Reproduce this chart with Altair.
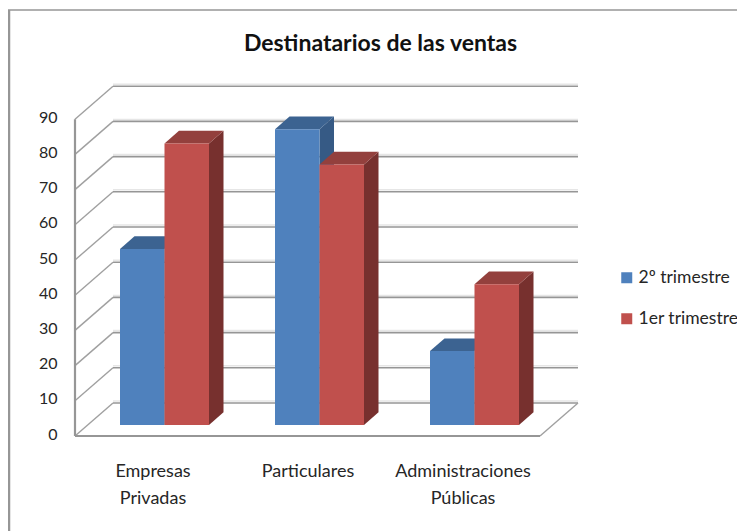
import json
import altair as alt
import pandas as pd

# ---- data ----
title = "Destinatarios de las ventas"
categories = ["Empresas Privadas", "Particulares", "Administraciones Públicas"]
series = ["2º trimestre", "1er trimestre"]
q2_values = [50, 84, 21]
q1_values = [80, 74, 40]
y_ticks = list(range(0, 100, 10))

# ---- style / layout ----
W, H = 729, 523
PX_X, PX_Y = 155.0, 3.52      # pixels per category, pixels per value unit
ORIGIN_X, ORIGIN_Y = 67, 428  # svg position of the front corner of the floor
WALL_DX, WALL_DY = 38 / PX_X, 33 / PX_Y
BAR_DX, BAR_DY = 14.5 / PX_X, 12.7 / PX_Y
BASE = 11 / PX_Y
BAR_W, BAR_START = 44.5 / PX_X, 45 / PX_X
FONT = "Lato"
TEXT = "#262626"
GRID = "#969696"
COLORS = ["#4f81bd", "#c0504d"]
TOPS = ["#3c6391", "#93403d"]
SIDES = ["#365a85", "#77302e"]

xs = alt.Scale(domain=[-ORIGIN_X / PX_X, (W - ORIGIN_X) / PX_X], range=[0, W], nice=False, zero=False)
ys = alt.Scale(domain=[(ORIGIN_Y - H) / PX_Y, ORIGIN_Y / PX_Y], range=[H, 0], nice=False, zero=False)

label_expr = ""
for i, c in enumerate(categories):
    label_expr += f"datum.value < {i + 1} ? {json.dumps(c.split(' '), ensure_ascii=False)} : "
label_expr += "''"

x_axis = alt.Axis(
    values=[0.5, 1.5, 2.5], labelExpr=label_expr, orient="bottom", offset=-(H - 454),
    domain=False, ticks=False, grid=False, title=None, labelPadding=0, labelFont=FONT,
    labelFontSize=18, labelColor=TEXT, labelLineHeight=27, labelAlign="center",
    labelBaseline="top", labelOverlap=False, labelFlush=False)
y_axis = alt.Axis(
    values=y_ticks, orient="left", offset=-49, domain=False, ticks=False, grid=False,
    title=None, labelPadding=0, labelFont=FONT, labelFontSize=16, labelColor=TEXT,
    labelOffset=-2, labelOverlap=False, labelFlush=False)

X = lambda f="x": alt.X(f"{f}:Q", scale=xs, axis=x_axis)
Y = lambda f="y": alt.Y(f"{f}:Q", scale=ys, axis=y_axis, stack=None)

# walls
back = pd.DataFrame({"x": WALL_DX, "x2": 3 + WALL_DX, "y": [v + WALL_DY for v in y_ticks]})
back_rule = alt.Chart(back).mark_rule(color=GRID, strokeWidth=1.6).encode(
    x=X(), x2="x2:Q", y=Y())
back_shadow = alt.Chart(back).mark_rule(color="#e6e6e6", strokeWidth=1.5, yOffset=-2).encode(
    x=X(), x2="x2:Q", y=Y())

diag_rows = []
for v in y_ticks:
    diag_rows += [dict(id=f"L{v}", x=0, y=v), dict(id=f"L{v}", x=WALL_DX, y=v + WALL_DY)]
diag_rows += [dict(id="R", x=3, y=0), dict(id="R", x=3 + WALL_DX, y=WALL_DY)]
diag = alt.Chart(pd.DataFrame(diag_rows)).mark_line(color="#a0a0a0", strokeWidth=1.4).encode(
    x=X(), y=Y(), detail="id:N")

axis_left = alt.Chart(pd.DataFrame({"x": [0], "y": [0], "y2": [90]})).mark_rule(color=GRID, strokeWidth=2.2).encode(
    x=X(), y=Y(), y2="y2:Q")
axis_floor = alt.Chart(pd.DataFrame({"x": [0], "x2": [3], "y": [0]})).mark_rule(color=GRID, strokeWidth=2.2).encode(
    x=X(), x2="x2:Q", y=Y())

# bars
front_rows, side_layers = [], []
for s, (name, vals) in enumerate(zip(series, [q2_values, q1_values])):
    side_rows, top_rows = [], []
    for i, v in enumerate(vals):
        x0 = i + BAR_START + s * BAR_W
        x1 = x0 + BAR_W
        b = BASE
        t = v + BASE
        front_rows.append(dict(series=name, x=x0, x2=x1, y=b, y2=t))
        side_rows += [dict(id=i, x=x1, y=t, y2=b),
                      dict(id=i, x=x1 + BAR_DX, y=t + BAR_DY, y2=b + BAR_DY)]
        top_rows += [dict(id=i, x=x0, y=t, y2=t),
                     dict(id=i, x=x0 + BAR_DX, y=t + BAR_DY, y2=t),
                     dict(id=i, x=x1, y=t + BAR_DY, y2=t),
                     dict(id=i, x=x1 + BAR_DX, y=t + BAR_DY, y2=t + BAR_DY)]
    for rows, col in ((side_rows, SIDES[s]), (top_rows, TOPS[s])):
        side_layers.append(
            alt.Chart(pd.DataFrame(rows)).mark_area(color=col, interpolate="linear").encode(
                x=X(), y=Y(), y2="y2:Q", detail="id:N"))

fronts = alt.Chart(pd.DataFrame(front_rows)).mark_rect().encode(
    x=X(), x2="x2:Q", y=Y(), y2="y2:Q",
    color=alt.Color("series:N", sort=series,
                    scale=alt.Scale(domain=series, range=COLORS),
                    legend=alt.Legend(orient="none", legendX=610, legendY=261, title=None,
                                      symbolType="square", symbolSize=121, symbolStrokeWidth=0,
                                      labelFont=FONT, labelFontSize=17.5, labelColor=TEXT,
                                      rowPadding=22, labelOffset=3)),
)

frame_top = alt.Chart(pd.DataFrame({"a": [0]})).mark_rule(color=GRID, strokeWidth=1.5).encode(
    x=alt.value(0), x2=alt.value(W), y=alt.value(2))
frame_left = alt.Chart(pd.DataFrame({"a": [0]})).mark_rule(color=GRID, strokeWidth=2.5).encode(
    x=alt.value(1), y=alt.value(2), y2=alt.value(H))

chart = alt.layer(
    frame_top, frame_left, back_shadow, back_rule, diag, axis_left, axis_floor,
    *side_layers, fronts,
).properties(
    width=W, height=H, padding=0,
    autosize=alt.AutoSizeParams(type="none"),
    title=alt.TitleParams(title, font=FONT, fontSize=23, fontWeight="bold", color="#111111",
                          anchor="middle", dx=8, dy=70, baseline="alphabetic"),
).configure_view(stroke=None)

chart.save("out.html", embed_options={"renderer": "svg", "actions": False})
